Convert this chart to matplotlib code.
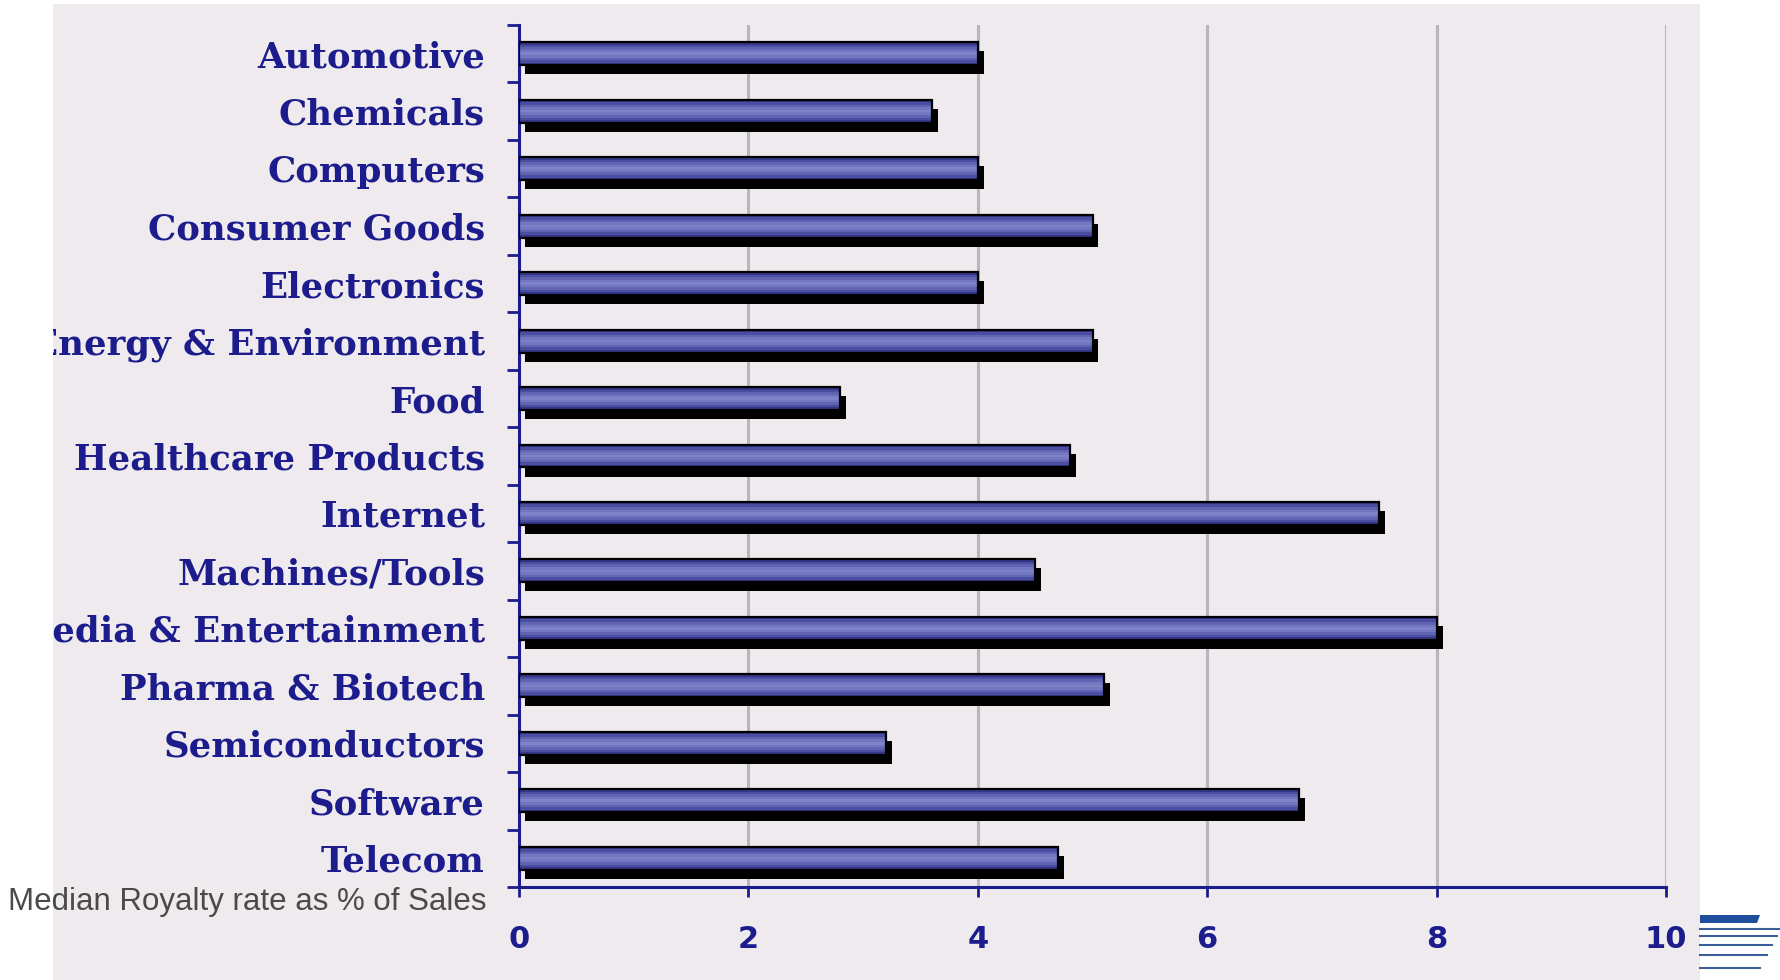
import numpy as np
import matplotlib
matplotlib.use("Agg")
import matplotlib.pyplot as plt
from matplotlib.patches import Rectangle, Polygon
from matplotlib.lines import Line2D


industries = [
    "Automotive", "Chemicals", "Computers", "Consumer Goods", "Electronics",
    "Energy & Environment", "Food", "Healthcare Products", "Internet",
    "Machines/Tools", "Media & Entertainment", "Pharma & Biotech",
    "Semiconductors", "Software", "Telecom",
]
royalty = [4.0, 3.6, 4.0, 5.0, 4.0, 5.0, 2.8, 4.8, 7.5, 4.5, 8.0, 5.1, 3.2, 6.8, 4.7]
xticks = [0, 2, 4, 6, 8, 10]
note = "Median Royalty rate as % of Sales"

NAVY = "#1c1c8c"
W, H = 1780, 980


def plot_chart(save=True):

    fig = plt.figure(figsize=(W / 100, H / 100), dpi=100)
    fig.patch.set_facecolor("white")

    # lavender panel behind the chart
    fig.add_artist(Rectangle((53 / W, 0), (1700 - 53) / W, 976 / H,
                             transform=fig.transFigure, facecolor="#eeeaee",
                             edgecolor="none", zorder=-1))

    ax = fig.add_axes([519 / W, 1 - 887 / H, (1666 - 519) / W, (887 - 25) / H])
    ax.set_facecolor("none")

    y = np.arange(len(industries))
    vals = np.array(royalty)
    h = 0.40

    # drop shadow
    ax.barh(y + 0.157, vals, left=0.052, height=h, color="black", zorder=2)

    # bar body with a light stripe through the middle
    bands = ["#34368a", "#4a4da0", "#6064b2", "#7377c0", "#7e82c8",
             "#7377c0", "#6064b2", "#4a4da0", "#34368a"]
    n = len(bands)
    for k, c in enumerate(bands):
        ax.barh(y - h / 2 + (k + 0.5) * h / n, vals, height=h / n + 0.002,
                color=c, edgecolor="none", zorder=3)
    ax.barh(y, vals, height=h, fill=False, edgecolor="black", lw=1.6, zorder=4)

    ax.set_xlim(0, 10)
    ax.set_ylim(len(industries) - 0.5, -0.5)

    ax.grid(axis="x", color="#b8b5bb", lw=2.2)
    ax.grid(axis="y", visible=False)
    ax.set_axisbelow(True)

    for s in ["top", "right"]:
        ax.spines[s].set_visible(False)
    for s in ["left", "bottom"]:
        ax.spines[s].set_color(NAVY)
        ax.spines[s].set_linewidth(2.2)

    ax.set_yticks(y)
    ax.set_yticklabels(industries, fontfamily="DejaVu Serif",
                       fontweight="bold", fontsize=25.6, color=NAVY)
    ax.set_yticks(np.arange(-0.5, len(industries)), minor=True)
    ax.tick_params(axis="y", which="major", length=0, pad=24.5)
    ax.tick_params(axis="y", which="minor", length=8.6, width=2,
                   color=NAVY, direction="out")

    ax.set_xticks(xticks)
    ax.set_xticklabels([str(t) for t in xticks], fontfamily="DejaVu Sans",
                       fontweight="bold", fontsize=22, color=NAVY)
    ax.tick_params(axis="x", length=7, width=2, color=NAVY, pad=20)

    # white margin on the left cuts the long labels, like the slide
    fig.add_artist(Rectangle((0, 0), 53 / W, 1, transform=fig.transFigure,
                             facecolor="white", edgecolor="none", zorder=5))
    fig.add_artist(Rectangle((0, 976 / H), 1, 4 / H, transform=fig.transFigure,
                             facecolor="white", edgecolor="none", zorder=5))

    fig.text(8 / W, 1 - 910 / H, note, fontfamily="Liberation Sans",
             fontsize=22.5, color="#4a4a4a", va="baseline", ha="left", zorder=6)

    # little logo stripes in the corner
    fig.add_artist(Polygon([(1700 / W, 1 - 915 / H), (1760 / W, 1 - 915 / H),
                            (1757 / W, 1 - 923 / H), (1700 / W, 1 - 923 / H)],
                           closed=True, transform=fig.transFigure,
                           facecolor="#1f4e9c", edgecolor="none", zorder=6))
    for yy, x1 in [(929, 1780), (936, 1777), (945, 1772), (955, 1767), (968, 1760)]:
        fig.add_artist(Line2D([1700 / W, x1 / W], [1 - yy / H, 1 - yy / H],
                              transform=fig.transFigure, color="#3b5f9a",
                              lw=1.5, zorder=6))

    if save:
        fig.savefig("out.png", dpi=100)
    plt.close(fig)


plot_chart()
